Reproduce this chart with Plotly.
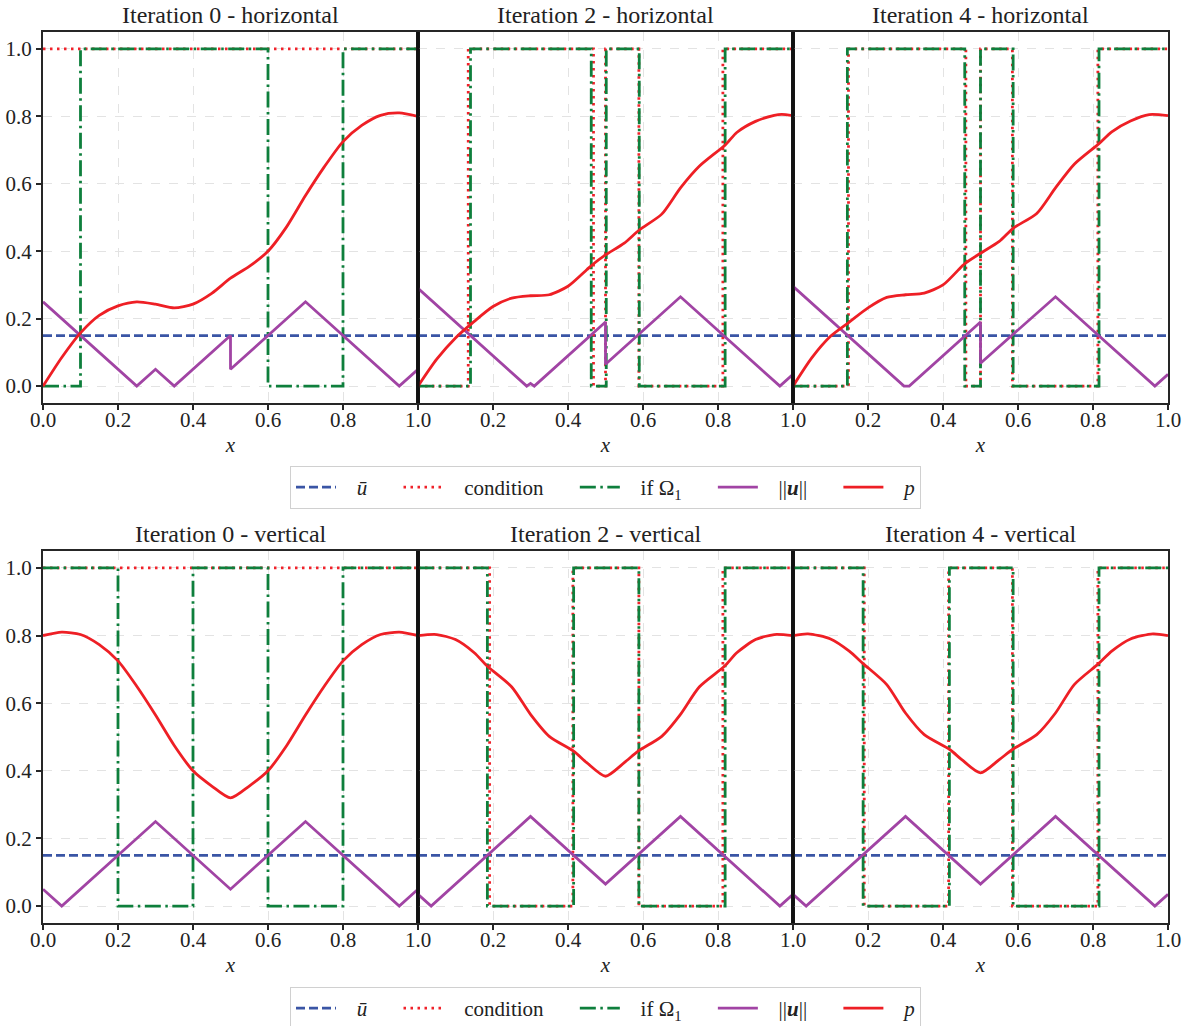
import plotly.graph_objects as go

# ----------------------------- data -----------------------------
U_BAR = 0.15

TITLES = ["Iteration 0 - horizontal", "Iteration 2 - horizontal", "Iteration 4 - horizontal",
          "Iteration 0 - vertical", "Iteration 2 - vertical", "Iteration 4 - vertical"]

TICK_VALS = [0.0, 0.2, 0.4, 0.6, 0.8, 1.0]
TICK_TEXT = ["0.0", "0.2", "0.4", "0.6", "0.8", "1.0"]

# condition (step)
H0_COND_X = [0.0, 1.0]
H0_COND_Y = [1, 1]
H2_COND_X = [0.0, 0.134, 0.468, 0.500, 0.589, 0.813, 1.0]
H2_COND_Y = [0, 1, 0, 1, 0, 1, 1]
H4_COND_X = [0.0, 0.148, 0.461, 0.500, 0.585, 0.813, 1.0]
H4_COND_Y = [0, 1, 0, 1, 0, 1, 1]
V0_COND_X = [0.0, 1.0]
V0_COND_Y = [1, 1]
V2_COND_X = [0.0, 0.191, 0.413, 0.589, 0.813, 1.0]
V2_COND_Y = [1, 0, 1, 0, 1, 1]
V4_COND_X = [0.0, 0.190, 0.415, 0.585, 0.813, 1.0]
V4_COND_Y = [1, 0, 1, 0, 1, 1]

# if Omega_1 (step)
H0_OM_X = [0.0, 0.1, 0.6, 0.8, 1.0]
H0_OM_Y = [0, 1, 0, 1, 1]
H2_OM_X = [0.0, 0.140, 0.462, 0.502, 0.590, 0.819, 1.0]
H2_OM_Y = [0, 1, 0, 1, 0, 1, 1]
H4_OM_X = [0.0, 0.145, 0.458, 0.500, 0.587, 0.816, 1.0]
H4_OM_Y = [0, 1, 0, 1, 0, 1, 1]
V0_OM_X = [0.0, 0.2, 0.4, 0.6, 0.8, 1.0]
V0_OM_Y = [1, 0, 1, 0, 1, 1]
V2_OM_X = [0.0, 0.185, 0.415, 0.589, 0.819, 1.0]
V2_OM_Y = [1, 0, 1, 0, 1, 1]
V4_OM_X = [0.0, 0.187, 0.417, 0.587, 0.816, 1.0]
V4_OM_Y = [1, 0, 1, 0, 1, 1]

# ||u||
H0_U_X = [0.0, 0.25, 0.30, 0.35, 0.50, 0.50, 0.70, 0.95, 1.0]
H0_U_Y = [0.25, 0.0, 0.05, 0.0, 0.15, 0.05, 0.25, 0.0, 0.05]
H2_U_X = [0.0, 0.29, 0.30, 0.31, 0.50, 0.50, 0.70, 0.965, 1.0]
H2_U_Y = [0.29, 0.0, 0.008, 0.0, 0.19, 0.065, 0.265, 0.0, 0.035]
H4_U_X = [0.0, 0.296, 0.31, 0.50, 0.50, 0.70, 0.965, 1.0]
H4_U_Y = [0.296, 0.0, 0.0, 0.19, 0.068, 0.265, 0.0, 0.035]
V0_U_X = [0.0, 0.05, 0.30, 0.50, 0.70, 0.95, 1.0]
V0_U_Y = [0.05, 0.0, 0.25, 0.05, 0.25, 0.0, 0.05]
V2_U_X = [0.0, 0.035, 0.30, 0.50, 0.70, 0.965, 1.0]
V2_U_Y = [0.035, 0.0, 0.265, 0.065, 0.265, 0.0, 0.035]
V4_U_X = [0.0, 0.035, 0.30, 0.50, 0.70, 0.965, 1.0]
V4_U_Y = [0.035, 0.0, 0.265, 0.065, 0.265, 0.0, 0.035]

# p
H0_P_X = [0.0, 0.05, 0.1, 0.15, 0.2, 0.25, 0.3, 0.35, 0.4, 0.45, 0.5, 0.55, 0.6, 0.65, 0.7, 0.75, 0.8, 0.85, 0.9, 0.95, 1.0]
H0_P_Y = [0.0, 0.085, 0.158, 0.21, 0.238, 0.25, 0.243, 0.232, 0.243, 0.275, 0.32, 0.355, 0.40, 0.473, 0.565, 0.65, 0.725, 0.773, 0.803, 0.81, 0.80]
H2_P_X = [0.0, 0.05, 0.1, 0.15, 0.2, 0.25, 0.3, 0.35, 0.4, 0.45, 0.465, 0.5, 0.55, 0.59, 0.65, 0.7, 0.75, 0.82, 0.85, 0.9, 0.95, 0.97, 1.0]
H2_P_Y = [0.0, 0.08, 0.143, 0.192, 0.236, 0.261, 0.268, 0.271, 0.296, 0.345, 0.36, 0.389, 0.424, 0.463, 0.51, 0.588, 0.652, 0.716, 0.752, 0.785, 0.803, 0.806, 0.802]
H4_P_X = [0.0, 0.05, 0.1, 0.15, 0.2, 0.25, 0.3, 0.35, 0.4, 0.45, 0.46, 0.5, 0.55, 0.587, 0.65, 0.7, 0.75, 0.816, 0.85, 0.9, 0.95, 1.0]
H4_P_Y = [0.0, 0.084, 0.148, 0.19, 0.232, 0.263, 0.271, 0.276, 0.30, 0.355, 0.365, 0.394, 0.429, 0.468, 0.512, 0.588, 0.658, 0.719, 0.754, 0.786, 0.805, 0.802]
V0_P_X = [0.0, 0.05, 0.1, 0.15, 0.2, 0.25, 0.3, 0.35, 0.4, 0.45, 0.5, 0.55, 0.6, 0.65, 0.7, 0.75, 0.8, 0.85, 0.9, 0.95, 1.0]
V0_P_Y = [0.80, 0.81, 0.803, 0.773, 0.725, 0.65, 0.565, 0.475, 0.40, 0.355, 0.32, 0.355, 0.40, 0.475, 0.565, 0.65, 0.725, 0.773, 0.803, 0.81, 0.80]
V2_P_X = [0.0, 0.05, 0.1, 0.15, 0.185, 0.25, 0.3, 0.35, 0.415, 0.45, 0.5, 0.55, 0.587, 0.65, 0.7, 0.75, 0.817, 0.85, 0.9, 0.95, 1.0]
V2_P_Y = [0.80, 0.803, 0.788, 0.749, 0.709, 0.648, 0.567, 0.502, 0.458, 0.424, 0.384, 0.424, 0.458, 0.502, 0.567, 0.648, 0.709, 0.749, 0.788, 0.803, 0.80]
V4_P_X = [0.0, 0.04, 0.1, 0.15, 0.187, 0.25, 0.3, 0.35, 0.418, 0.45, 0.5, 0.55, 0.585, 0.65, 0.7, 0.75, 0.815, 0.85, 0.9, 0.96, 1.0]
V4_P_Y = [0.80, 0.805, 0.79, 0.754, 0.717, 0.655, 0.571, 0.507, 0.463, 0.433, 0.394, 0.433, 0.463, 0.507, 0.571, 0.655, 0.717, 0.754, 0.79, 0.805, 0.80]

PANELS = [
    (H0_COND_X, H0_COND_Y, H0_OM_X, H0_OM_Y, H0_U_X, H0_U_Y, H0_P_X, H0_P_Y),
    (H2_COND_X, H2_COND_Y, H2_OM_X, H2_OM_Y, H2_U_X, H2_U_Y, H2_P_X, H2_P_Y),
    (H4_COND_X, H4_COND_Y, H4_OM_X, H4_OM_Y, H4_U_X, H4_U_Y, H4_P_X, H4_P_Y),
    (V0_COND_X, V0_COND_Y, V0_OM_X, V0_OM_Y, V0_U_X, V0_U_Y, V0_P_X, V0_P_Y),
    (V2_COND_X, V2_COND_Y, V2_OM_X, V2_OM_Y, V2_U_X, V2_U_Y, V2_P_X, V2_P_Y),
    (V4_COND_X, V4_COND_Y, V4_OM_X, V4_OM_Y, V4_U_X, V4_U_Y, V4_P_X, V4_P_Y),
]

LEAD = "\u00a0" * 3
PAD = "\u00a0" * 5
NAMES = [LEAD + "<i>ū</i>" + PAD, LEAD + "condition" + PAD, LEAD + "if Ω<sub>1</sub>" + PAD,
         LEAD + "||<b><i>u</i></b>||" + PAD, LEAD + "<i>p</i>"]

# ----------------------------- style -----------------------------
BLUE = "#3a55a5"
RED_DOT = "#f0222a"
GREEN = "#0e7f3c"
PURPLE = "#a144a4"
RED = "#ee1f25"
LW = 2.8
FONT = "Liberation Serif"
TXT = "#222222"

W, H = 1189, 1026
ML, MR, MT, MB = 43, 21, 32, 103
PH = H - MT - MB
TOP_DOM = [1 - (403 - MT) / PH, 1.0]
BOT_DOM = [0.0, (923 - 551) / PH]

fig = go.Figure()

for i, (cx, cy, ox, oy, ux, uy, px, py) in enumerate(PANELS):
    row, col = divmod(i, 3)
    sfx = "" if i == 0 else str(i + 1)
    xa, ya = "x" + sfx, "y" + sfx
    leg = "legend" if row == 0 else "legend2"
    show = col == 0
    common = dict(xaxis=xa, yaxis=ya, legend=leg, showlegend=show, mode="lines", hoverinfo="skip")
    fig.add_trace(go.Scatter(x=[0.0, 1.0], y=[U_BAR, U_BAR], name=NAMES[0],
                             line=dict(color=BLUE, width=LW, dash="9px,4px"), **common))
    fig.add_trace(go.Scatter(x=cx, y=cy, name=NAMES[1], line_shape="hv",
                             line=dict(color=RED_DOT, width=LW, dash="2.5px,4.5px"), **common))
    fig.add_trace(go.Scatter(x=ox, y=oy, name=NAMES[2], line_shape="hv",
                             line=dict(color=GREEN, width=LW, dash="16px,4.5px,2.5px,4.5px"), **common))
    fig.add_trace(go.Scatter(x=ux, y=uy, name=NAMES[3],
                             line=dict(color=PURPLE, width=LW), **common))
    fig.add_trace(go.Scatter(x=px, y=py, name=NAMES[4], line_shape="spline",
                             line=dict(color=RED, width=LW, smoothing=0.7), **common))

    dom_x = [col / 3, (col + 1) / 3]
    dom_y = TOP_DOM if row == 0 else BOT_DOM
    tv = TICK_VALS if col == 0 else TICK_VALS[1:]
    tt = TICK_TEXT if col == 0 else TICK_TEXT[1:]
    fig.layout["xaxis" + sfx] = dict(
        domain=dom_x, anchor=ya, range=[0, 1], tickvals=tv, ticktext=tt,
        showline=True, mirror=True, linecolor="#262626", linewidth=2,
        ticks="outside", ticklen=5, tickwidth=1.5, tickcolor="#262626",
        ticklabelstandoff=-8,
        showgrid=True, gridcolor="#e3e3e3", griddash="dash", gridwidth=1, zeroline=False,
        tickfont=dict(size=21, color=TXT, family=FONT),
        title=dict(text="<i>x</i>", font=dict(size=21, color=TXT, family=FONT), standoff=6),
    )
    yax = dict(
        domain=dom_y, anchor=xa, range=[-0.05, 1.05], tickvals=TICK_VALS,
        showline=True, mirror=True, linecolor="#262626", linewidth=2,
        ticklen=5, tickwidth=1.5, tickcolor="#262626",
        showgrid=True, gridcolor="#e3e3e3", griddash="dash", gridwidth=1, zeroline=False,
        tickfont=dict(size=21, color=TXT, family=FONT),
    )
    if col == 0:
        yax.update(ticktext=TICK_TEXT, ticks="outside", showticklabels=True)
    else:
        yax.update(ticks="", showticklabels=False)
    fig.layout["yaxis" + sfx] = yax
    fig.add_annotation(text=TITLES[i], xref="paper", yref="paper",
                       x=(col + 0.5) / 3, y=dom_y[1] + 17 / PH, xanchor="center", yanchor="middle",
                       showarrow=False, font=dict(size=24, color=TXT, family=FONT))

for dom in (TOP_DOM, BOT_DOM):
    for xs in (1 / 3, 2 / 3):
        fig.add_shape(type="line", xref="paper", yref="paper", x0=xs, x1=xs, y0=dom[0], y1=dom[1],
                      line=dict(color="#111111", width=3.5))

legend_style = dict(orientation="h", x=0.5, xanchor="center", yanchor="top",
                    bgcolor="white", bordercolor="#d0d0d0", borderwidth=1, itemwidth=40,
                    font=dict(size=21, color=TXT, family=FONT))
fig.update_layout(
    width=W, height=H,
    margin=dict(l=ML, r=MR, t=MT, b=MB, pad=0, autoexpand=False),
    paper_bgcolor="white", plot_bgcolor="white",
    font=dict(family=FONT, color=TXT),
    legend=dict(y=(923 - 466) / PH, **legend_style),
    legend2=dict(y=(923 - 987) / PH, **legend_style),
)

fig.write_html("out.html", config={"displayModeBar": False},
               post_script="document.body.style.margin='0';document.body.style.overflow='hidden';")
